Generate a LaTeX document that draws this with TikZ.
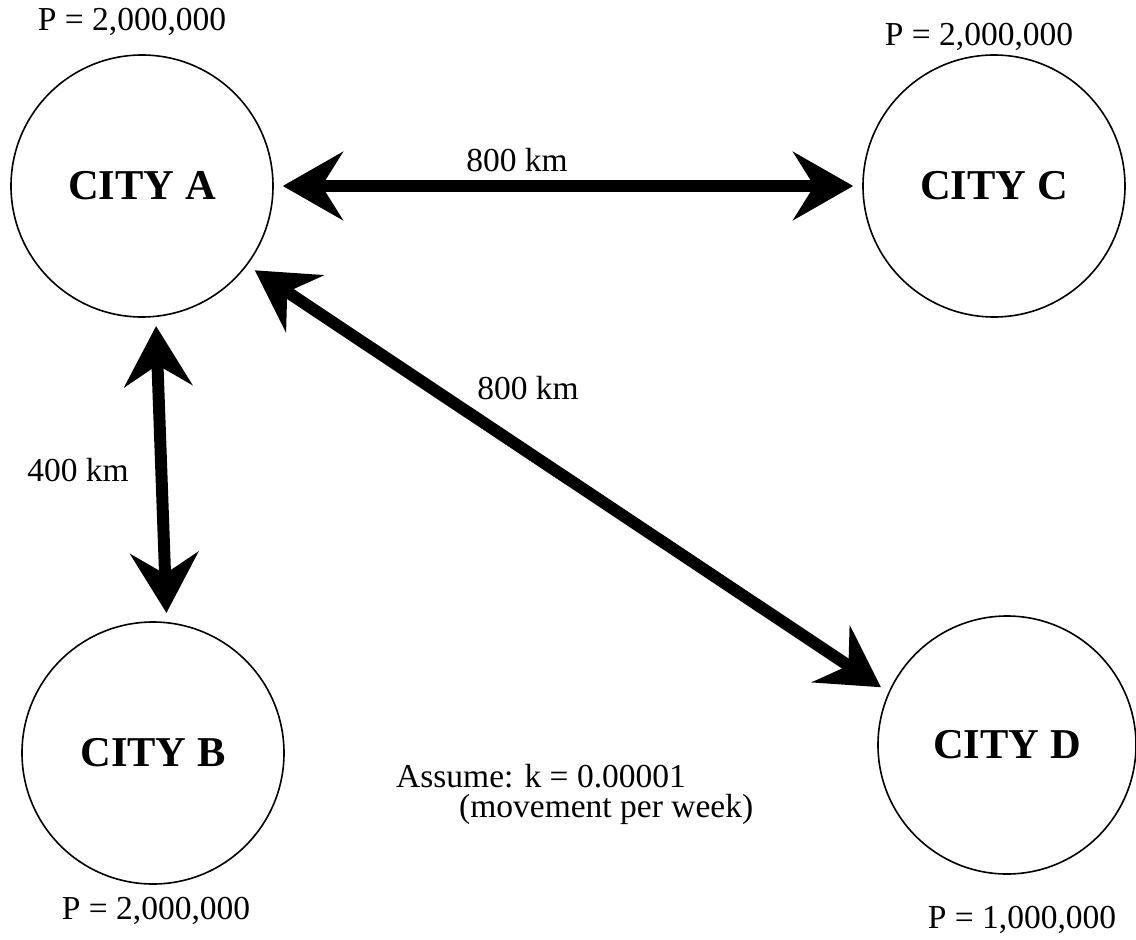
\documentclass[tikz,border=0pt]{standalone}
\usepackage{fontspec}
\setmainfont{Liberation Serif}
\usetikzlibrary{arrows.meta}
\tikzset{
  city/.style={circle, draw, line width=1.6pt, minimum size=262pt, inner sep=0pt, font=\fontsize{42.5}{48}\selectfont\bfseries},
  lbl/.style={inner sep=0pt, font=\fontsize{33.5}{38}\selectfont},
  arr/.style={line width=12pt, {Stealth[length=60pt, width=68pt, inset=21pt]}-{Stealth[length=60pt, width=68pt, inset=21pt]}, shorten <=9pt, shorten >=9pt}
}
\begin{document}
\begin{tikzpicture}[x=1pt,y=-1pt]
\useasboundingbox (0,0) rectangle (1136,940);
\node[city] (A) at (142,186) {CITY A};
\node[city] (C) at (994,186) {CITY C};
\node[city] (B) at (153,753) {CITY B};
\node[city, minimum size=258pt] (D) at (1007,745) {CITY D};
\node[lbl] (pA) at (132,22) {P = 2,000,000};
\node[lbl] (pC) at (979,37) {P = 2,000,000};
\node[lbl] (pB) at (156,911) {P = 2,000,000};
\node[lbl] (pD) at (1022,920) {P = 1,000,000};
\draw[arr] (A.0) -- (C.180);
\draw[arr] (A.-84) -- (B.84);
\draw[arr] (A.-37) -- (D.156);
\node[lbl] (dAC) at (517,160) {800 km};
\node[lbl] (dAD) at (528,388) {800 km};
\node[lbl] (dAB) at (78,470) {400 km};
\node[lbl, anchor=west] (as1) at (396,776) {Assume: k = 0.00001};
\node[lbl, anchor=west] (as2) at (459,809) {(movement per week)};
\end{tikzpicture}
\end{document}
